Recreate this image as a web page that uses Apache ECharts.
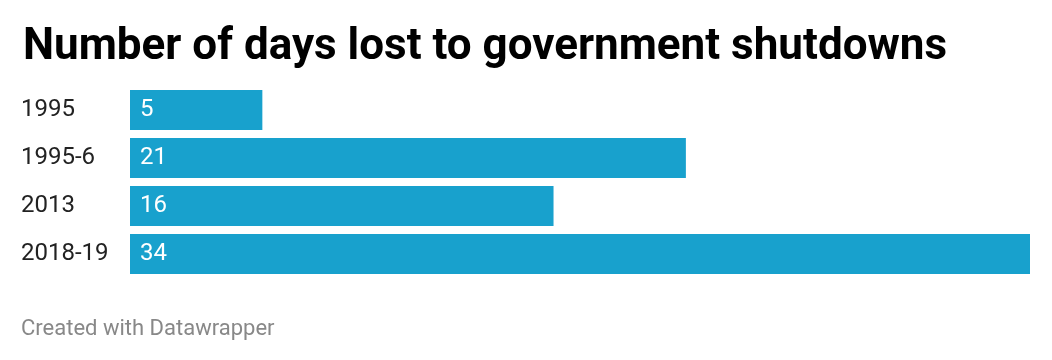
<!DOCTYPE html>
<html><head><meta charset="utf-8">
<script src="https://cdn.jsdelivr.net/npm/echarts@6/dist/echarts.min.js"></script>
<style>html,body{margin:0;padding:0;background:#fff}#c{width:1052px;height:360px}</style>
</head><body><div id="c"></div>
<script>
const categories = ['1995', '1995-6', '2013', '2018-19'];
const daysLost = [5, 21, 16, 34];
const titleText = 'Number of days lost to government shutdowns';
const footerText = 'Created with Datawrapper';

const chart = echarts.init(document.getElementById('c'), null, {renderer: 'canvas'});
chart.setOption({
  animation: false,
  backgroundColor: '#ffffff',
  title: [{
    text: titleText,
    left: 18, top: 21,
    textStyle: {fontFamily: 'Roboto', fontWeight: 'bold', fontSize: 44, color: '#000000'}
  }, {
    text: footerText,
    left: 16, top: 313,
    textStyle: {fontFamily: 'Roboto', fontWeight: 'normal', fontSize: 22, color: '#888888'}
  }],
  grid: {left: 130, right: 22, top: 86, bottom: 82, containLabel: false},
  xAxis: {type: 'value', min: 0, max: 34, show: false},
  yAxis: {
    type: 'category', data: categories, inverse: true,
    axisLine: {show: false}, axisTick: {show: false}, splitLine: {show: false},
    axisLabel: {align: 'left', margin: 109, fontFamily: 'Roboto', fontSize: 24, color: '#222222'}
  },
  series: [{
    type: 'bar', data: daysLost, barCategoryGap: '16.667%',
    itemStyle: {color: '#18a1cd'},
    label: {show: true, position: 'insideLeft', distance: 10, fontFamily: 'Roboto', fontSize: 24, color: '#ffffff'}
  }]
});
</script></body></html>
